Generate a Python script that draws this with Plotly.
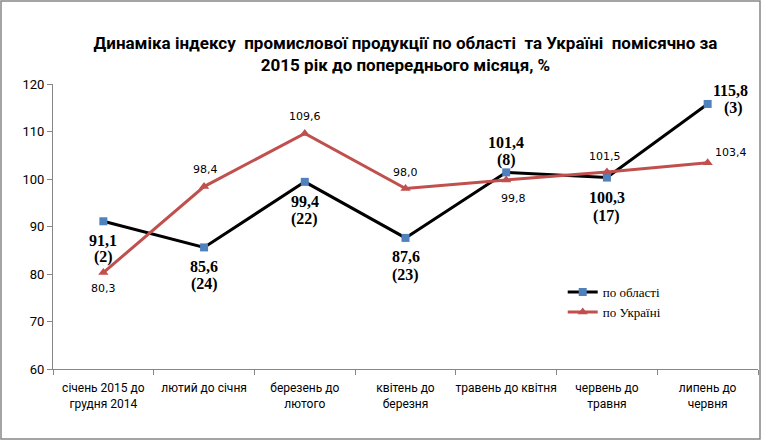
import plotly.graph_objects as go

# categories and values
months = ["січень 2015 до<br>грудня 2014", "лютий до січня", "березень до<br>лютого",
          "квітень до<br>березня", "травень до квітня", "червень до<br>травня", "липень до<br>червня"]
region = [91.1, 85.6, 99.4, 87.6, 101.4, 100.3, 115.8]
region_rank = [2, 24, 22, 23, 8, 17, 3]
ukraine = [80.3, 98.4, 109.6, 98.0, 99.8, 101.5, 103.4]

# label offsets in px: (xshift value, xshift rank, yshift value, yshift rank)
region_off = [(0, 0, -19, -36), (0, 0, -19, -37), (0, 0, -20, -37), (0, 0, -19, -37),
              (0, 0, 30, 12), (0, 0, -20, -38), (23, 26, 13, -4)]
ukraine_off = [(0, -16), (1, 17), (0, 17), (0, 16), (7, -19), (-2, 15), (23, 10)]


def fmt(v):
    return f"{v:.1f}".replace(".", ",")


fig = go.Figure()
fig.add_trace(go.Scatter(
    x=months, y=region, name="по області", mode="lines+markers",
    line=dict(color="black", width=3),
    marker=dict(symbol="square", size=8, color="#4F81BD"),
))
fig.add_trace(go.Scatter(
    x=months, y=ukraine, name="по Україні", mode="lines+markers",
    line=dict(color="#C0504D", width=3),
    marker=dict(symbol="triangle-up", size=9, color="#C0504D"),
))

bold_serif = dict(family="Liberation Serif", size=16, color="black", weight="bold")
ann = []
for m, v, r, (dxv, dxr, dyv, dyr) in zip(months, region, region_rank, region_off):
    ann.append(dict(x=m, y=v, text=fmt(v), showarrow=False,
                    xshift=dxv, yshift=dyv, font=bold_serif))
    ann.append(dict(x=m, y=v, text=f"({r})", showarrow=False,
                    xshift=dxr, yshift=dyr, font=bold_serif))
for m, v, (dx, dy) in zip(months, ukraine, ukraine_off):
    ann.append(dict(x=m, y=v, text=fmt(v), showarrow=False, xshift=dx, yshift=dy,
                    font=dict(family="DejaVu Sans", size=11, color="black")))

fig.update_layout(
    width=761, height=442,
    margin=dict(l=53, r=3, t=84, b=73),
    paper_bgcolor="white", plot_bgcolor="white",
    title=dict(text="<b>Динаміка індексу  промислової продукції по області  та Україні  помісячно за<br>2015 рік до попереднього місяця, %</b>",
               x=0.5, xref="paper", y=1 - 49 / 442, yanchor="middle", automargin=False,
               font=dict(family="Roboto", size=17, color="black")),
    xaxis=dict(range=[-0.5, 6.5], showline=True, linecolor="#868686",
               ticks="outside", tickson="boundaries", ticklen=5, tickcolor="#868686",
               tickangle=0, automargin=False, ticklabelstandoff=8,
               tickfont=dict(family="Roboto", size=12, color="black"), showgrid=False),
    yaxis=dict(range=[60, 120], dtick=10, showline=True, linecolor="#868686",
               ticks="outside", ticklen=5, tickcolor="#868686", automargin=False,
               showgrid=False, zeroline=False,
               tickfont=dict(family="Roboto", size=13, color="black")),
    legend=dict(x=0.723, y=0.3225, xanchor="left", yanchor="top", bgcolor="rgba(0,0,0,0)",
                font=dict(family="Liberation Serif", size=13, color="black"),
                tracegroupgap=0),
    annotations=ann,
    shapes=[dict(type="rect", xref="paper", yref="paper",
                 x0=-52 / 705, x1=1 + 2 / 705, y0=-70 / 285, y1=1 + 83 / 285,
                 line=dict(color="#868686", width=1.5))],
)

fig.write_html("out.html", config={"displayModeBar": False},
               post_script="document.body.style.margin='0';")
